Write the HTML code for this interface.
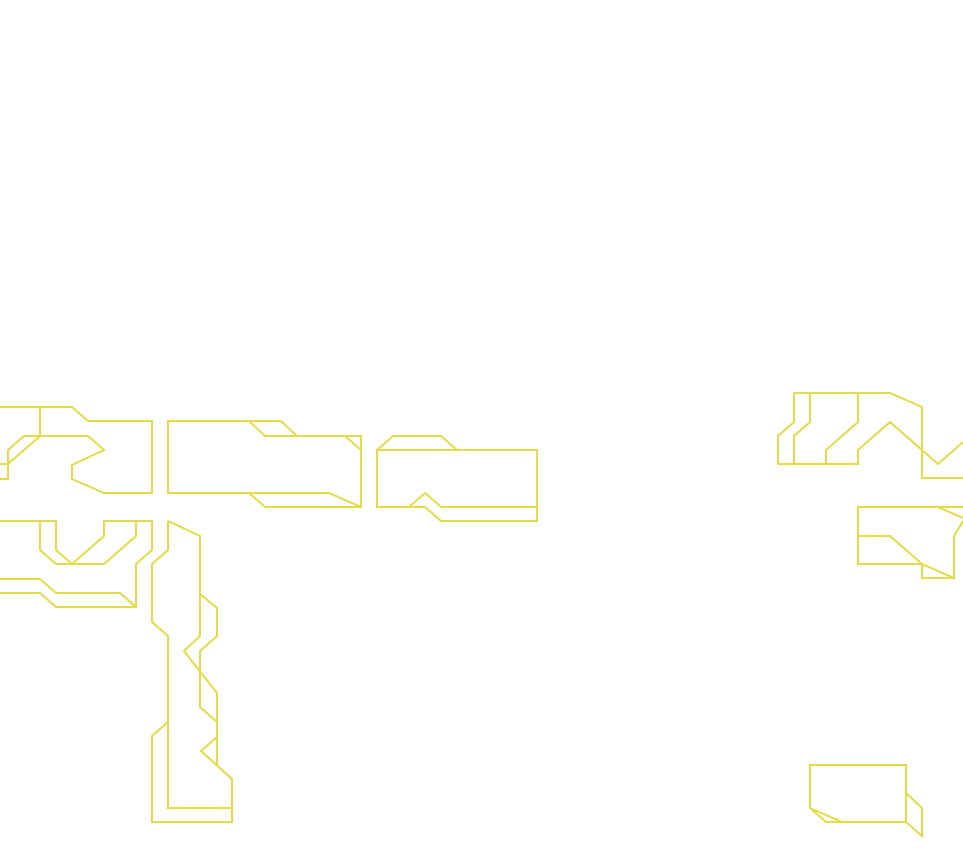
<!DOCTYPE html>
<html><head><meta charset="utf-8"><style>html,body{margin:0;padding:0;background:#fff}svg{display:block}</style></head>
<body>
<svg width="963" height="858" viewBox="0 0 963 858" xmlns="http://www.w3.org/2000/svg">
<g fill="none" stroke="#e2dc46" stroke-width="2" stroke-linejoin="miter">
<polyline points="0,407 72,407 88,421 152,421 152,493 104,493 72,479 72,465 104,450 88,436 24,436 8,450 8,479 0,479"/>
<polyline points="40,407 40,436 8,464 0,464"/>
<polygon points="168,421 249,421 265,436 361,436 361,507 265,507 249,493 168,493"/>
<polyline points="249,421 281,421 297,436"/>
<polyline points="345,436 361,450"/>
<polyline points="249,493 329,493 361,507"/>
<polyline points="0,521 56,521 56,550 72,564 104,536 104,521 152,521 152,550 136,564 136,607 56,607 40,593 0,593"/>
<polyline points="40,521 40,550 56,564 104,564 136,536 136,521"/>
<polyline points="0,579 40,579 56,593 120,593 136,607"/>
<polyline points="168,521 200,536 200,636 184,651 217,693 217,765"/>
<polyline points="168,521 168,550 152,564 152,622 168,636 168,808 232,808"/>
<polyline points="168,722 152,736 152,822 232,822 232,779 201,751 217,737"/>
<polyline points="200,594 217,608 217,636 200,651 200,707 217,722"/>
<polyline points="377,450 393,436 441,436 457,450"/>
<polygon points="377,450 537,450 537,507 441,507 425,493 409,507 377,507"/>
<polyline points="409,507 425,507 441,521 537,521 537,507"/>
<polyline points="794,393 890,393 922,407 922,478 963,478"/>
<polyline points="794,393 794,422 778,436 778,464 858,464 858,450 890,422 938,464 963,442"/>
<polyline points="810,393 810,422 794,436 794,464"/>
<polyline points="858,393 858,422 826,450 826,464"/>
<polyline points="963,507 858,507 858,564 922,564 954,578 954,536 963,521"/>
<polyline points="938,507 963,518"/>
<polyline points="858,536 890,536 922,564 922,578 954,578"/>
<polygon points="810,765 906,765 906,822 826,822 810,808"/>
<polyline points="810,808 842,822"/>
<polyline points="906,793 922,808 922,836 906,822"/>
</g>
</svg>
</body></html>
